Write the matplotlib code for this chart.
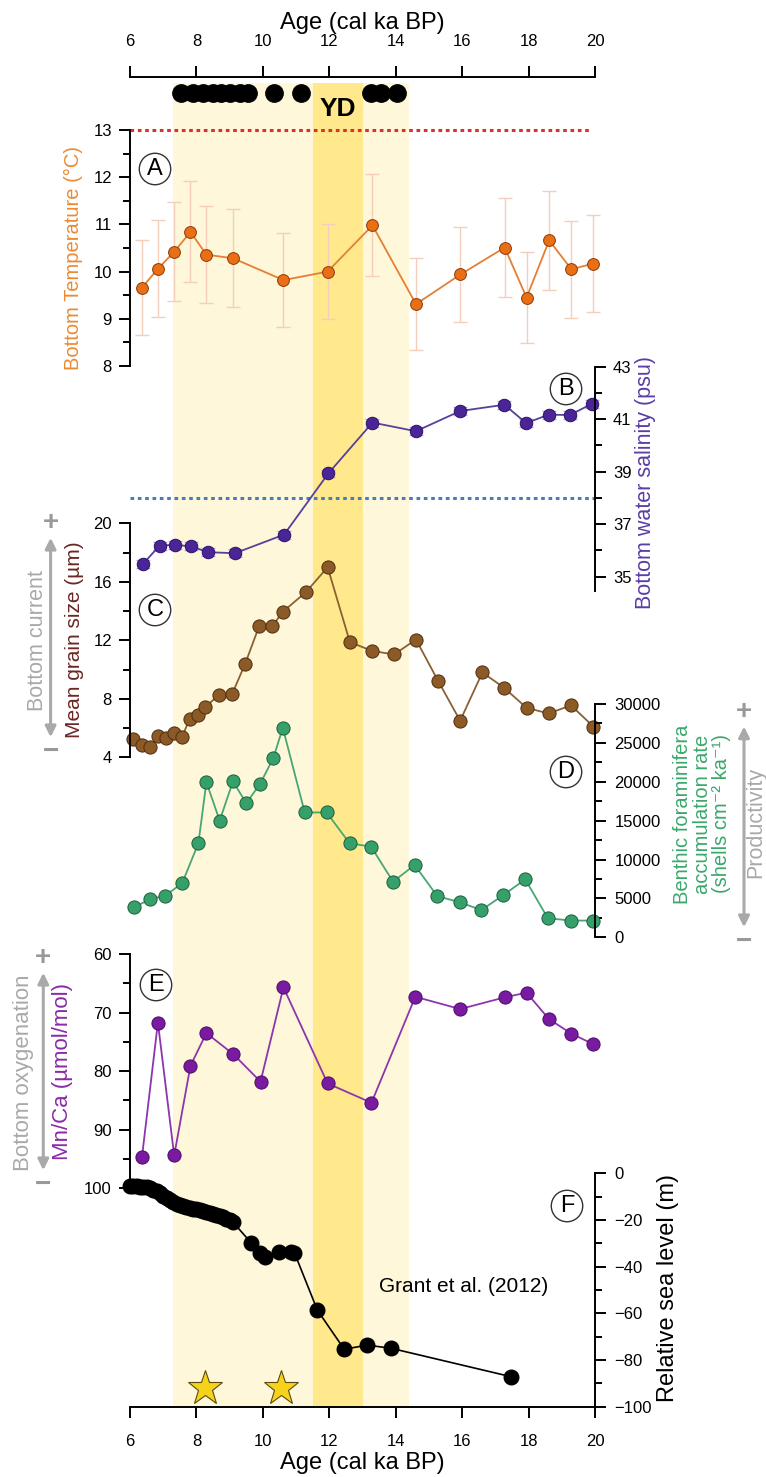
import matplotlib.pyplot as plt
from matplotlib.patches import FancyArrowPatch
from matplotlib.ticker import MultipleLocator

plt.rcParams["font.family"] = ["Liberation Sans", "DejaVu Sans"]

# canvas size and shared age axis (pixels)
W, H = 766, 1477
X0, X1 = 130, 595

# Holocene / deglacial shading and the Younger Dryas
band_light = (7.3, 14.4)
band_yd = (11.5, 13.0)

# radiocarbon dating levels
dating_ages = [7.55, 7.9, 8.2, 8.5, 8.75, 9.0, 9.3, 9.55, 10.35, 11.15, 13.25, 13.55, 14.05]

# (A) bottom temperature
temp_age = [6.36, 6.84, 7.33, 7.82, 8.30, 9.11, 10.62, 11.95, 13.30, 14.61, 15.95, 17.28, 17.94, 18.62, 19.29, 19.95]
temp = [9.66, 10.06, 10.42, 10.84, 10.36, 10.28, 9.82, 10.0, 10.98, 9.31, 9.94, 10.51, 9.45, 10.66, 10.05, 10.17]
temp_err = [1.0, 1.03, 1.05, 1.07, 1.03, 1.04, 1.0, 1.01, 1.08, 0.97, 1.01, 1.05, 0.97, 1.05, 1.03, 1.03]
temp_ref = 13.0

# (B) bottom water salinity
sal_age = [6.39, 6.89, 7.36, 7.85, 8.34, 9.16, 10.64, 11.97, 13.30, 14.61, 15.94, 17.27, 17.93, 18.60, 19.25, 19.91]
sal = [35.48, 36.18, 36.21, 36.15, 35.93, 35.89, 36.60, 38.93, 40.87, 40.54, 41.31, 41.55, 40.85, 41.17, 41.16, 41.59]
sal_err = [0.15] * 16
sal_ref = 38.0

# (C) mean grain size
grain_age = [6.08, 6.35, 6.61, 6.84, 7.07, 7.32, 7.56, 7.80, 8.04, 8.27, 8.68, 9.07, 9.47, 9.89, 10.29,
             10.60, 11.30, 11.95, 12.62, 13.28, 13.95, 14.61, 15.27, 15.94, 16.61, 17.26, 17.94, 18.60,
             19.28, 19.95]
grain = [5.23, 4.84, 4.73, 5.45, 5.34, 5.68, 5.36, 6.64, 6.89, 7.45, 8.27, 8.30, 10.41, 12.98, 12.98,
         13.95, 15.30, 17.0, 11.88, 11.28, 11.03, 12.05, 9.25, 6.50, 9.80, 8.76, 7.38, 7.00, 7.55, 6.10]

# (D) benthic foraminifera accumulation rate
bfar_age = [6.12, 6.60, 7.06, 7.57, 8.06, 8.30, 8.70, 9.10, 9.50, 9.92, 10.32, 10.60, 11.26, 11.92,
            12.61, 13.26, 13.92, 14.57, 15.25, 15.93, 16.58, 17.23, 17.90, 18.58, 19.29, 19.95]
bfar = [3850, 4900, 5350, 6950, 12100, 19950, 15000, 20050, 17250, 19750, 23100, 26950, 16050, 16050,
        12100, 11650, 7150, 9300, 5300, 4500, 3500, 5400, 7450, 2450, 2150, 2150]

# (E) Mn/Ca
mnca_age = [6.36, 6.84, 7.33, 7.82, 8.30, 9.11, 9.93, 10.62, 11.95, 13.27, 14.59, 15.94, 17.28, 17.94,
            18.61, 19.29, 19.95]
mnca = [94.7, 71.7, 94.4, 79.1, 73.5, 77.1, 81.8, 65.7, 82.1, 85.4, 67.3, 69.4, 67.4, 66.6, 71.1, 73.6, 75.4]

# (F) relative sea level, Grant et al. (2012)
rsl_age = [6.0, 6.1, 6.2, 6.3, 6.4, 6.5, 6.6, 6.7, 6.8, 6.9, 7.0, 7.1, 7.2, 7.3, 7.4, 7.5, 7.6, 7.7,
           7.8, 7.9, 8.0, 8.1, 8.2, 8.3, 8.4, 8.5, 8.6, 8.7, 8.8, 8.9, 9.0, 9.1,
           9.64, 9.91, 10.05, 10.50, 10.85, 10.95, 11.64, 12.45, 13.14, 13.87, 17.46]
rsl = [-5.6, -5.6, -5.6, -5.7, -5.8, -6.0, -6.4, -7.0, -7.7, -8.6, -9.6, -10.6, -11.5, -12.3, -13.0,
       -13.6, -14.1, -14.5, -14.8, -15.1, -15.4, -15.7, -16.0, -16.4, -16.8, -17.3, -17.8, -18.3,
       -18.9, -19.5, -20.2, -20.9,
       -29.7, -34.0, -35.7, -33.6, -33.6, -34.0, -58.6, -75.4, -73.6, -75.0, -87.1]
star_ages = [8.25, 10.55]
star_level = -92

LIGHT = "#fff7d9"
DARK = "#ffe98c"
GREY = "#a9a9a9"
LW = 1.4
TICK_FS = 12


def fx(x):
    return x / W


def fy(y):
    return 1 - y / H


def ftext(x, y, s, **kw):
    fig.text(fx(x), fy(y), s, ha="center", va="center", **kw)


def panel(top, bottom):
    ax = fig.add_axes([fx(X0), fy(bottom), (X1 - X0) / W, (bottom - top) / H])
    ax.set_xlim(6, 20)
    ax.patch.set_alpha(0)
    for s in ax.spines.values():
        s.set_visible(False)
    ax.tick_params(axis="x", bottom=False, labelbottom=False)
    return ax


def yaxis(ax, side, major, minor, pad=5):
    ax.spines[side].set_visible(True)
    ax.spines[side].set_linewidth(LW)
    if side == "right":
        ax.yaxis.tick_right()
    ax.yaxis.set_major_locator(MultipleLocator(major))
    ax.yaxis.set_minor_locator(MultipleLocator(minor))
    ax.tick_params(axis="y", which="major", length=8, width=LW, labelsize=TICK_FS, pad=pad)
    ax.tick_params(axis="y", which="minor", length=5, width=LW)


def circled(x, y, letter):
    ftext(x, y, letter, fontsize=17,
          bbox=dict(boxstyle="circle,pad=0.2", fc="none", ec="#333333", lw=1.0))


def gauge(x, y_top, y_bot):
    fig.add_artist(FancyArrowPatch((fx(x), fy(y_top + 12)), (fx(x), fy(y_bot - 10)),
                                   transform=fig.transFigure, arrowstyle="<|-|>",
                                   mutation_scale=16, color=GREY, lw=2.2))
    ftext(x, y_top, "+", fontsize=20, color="#999999", fontweight="bold")
    ftext(x, y_bot + 2, "\u2212", fontsize=20, color="#999999", fontweight="bold")


fig = plt.figure(figsize=(W / 100, H / 100), dpi=100)

# shading and the top age axis
AX_TOP, AX_BOT = 77, 1406.7
base = panel(AX_TOP, AX_BOT)
base.set_ylim(0, 1)
base.spines["top"].set_visible(True)
base.spines["top"].set_linewidth(LW)
base.set_yticks([])
base.xaxis.tick_top()
base.xaxis.set_label_position("top")
base.set_xticks(range(6, 21, 2))
base.tick_params(axis="x", top=True, labeltop=True, length=8, width=LW, labelsize=TICK_FS, pad=12)
base.set_xlabel("Age (cal ka BP)", fontsize=17, labelpad=4)


def frac(y):
    return (AX_BOT - y) / (AX_BOT - AX_TOP)


base.axvspan(*band_light, ymax=frac(83), color=LIGHT, lw=0, zorder=0)
base.axvspan(*band_yd, ymax=frac(83), color=DARK, lw=0, zorder=0)
base.plot(dating_ages, [frac(93)] * len(dating_ages), "o", color="black", ms=12.5, zorder=3)
base.text(12.25, frac(109), "YD", ha="center", va="center", fontsize=19, fontweight="bold")

# (A) temperature
axA = panel(130, 366)
axA.set_ylim(8, 13)
yaxis(axA, "left", 1, 0.5)
axA.hlines(temp_ref, 6, 19.85, colors="#d8322a", linestyles=(0, (1.2, 1.2)), lw=2.2, clip_on=False)
axA.errorbar(temp_age, temp, yerr=temp_err, fmt="none", ecolor="#f4cdbb", elinewidth=1.0,
             capsize=5, capthick=1.0, clip_on=False)
axA.plot(temp_age, temp, "-o", color="#e47f34", lw=1.3, ms=8.5, mfc="#ea6f14", mec="#8a3b0c",
         mew=0.7, clip_on=False)
ftext(73, 258, "Bottom Temperature (\u00b0C)", rotation=90, fontsize=14.5, color="#ec8a33")
circled(155, 169, "A")

# (B) salinity
axB = panel(366.7, 591)
axB.set_ylim(34.45, 43)
yaxis(axB, "right", 2, 1)
axB.yaxis.set_major_locator(plt.FixedLocator([35, 37, 39, 41, 43]))
axB.hlines(sal_ref, 6, 20, colors="#4a7db8", linestyles=(0, (1.2, 1.2)), lw=2.2, clip_on=False)
axB.errorbar(sal_age, sal, yerr=sal_err, fmt="none", ecolor="#b7acd9", elinewidth=1.0,
             capsize=5, capthick=1.0, clip_on=False)
axB.plot(sal_age, sal, "-o", color="#55409c", lw=1.3, ms=9, mfc="#4b2597", mec="#2c1266",
         mew=0.7, clip_on=False)
ftext(645, 483, "Bottom water salinity (psu)", rotation=90, fontsize=15.5, color="#5b3ea6")
circled(566, 389, "B")

# (C) grain size
axC = panel(523.3, 757.3)
axC.set_ylim(4, 20)
yaxis(axC, "left", 4, 2)
axC.plot(grain_age, grain, "-o", color="#8a6034", lw=1.3, ms=9.5, mfc="#8c5a26", mec="#4e2e0e",
         mew=0.7, clip_on=False)
ftext(75, 640, "Mean grain size (\u00b5m)", rotation=90, fontsize=15, color="#6a2723")
ftext(37.5, 641, "Bottom current", rotation=90, fontsize=15.5, color=GREY)
gauge(50.6, 523, 750)
circled(155, 610, "C")

# (D) benthic foraminifera accumulation rate
axD = panel(704, 937.3)
axD.set_ylim(0, 30000)
yaxis(axD, "right", 5000, 2500, pad=6)
axD.plot(bfar_age, bfar, "-o", color="#47a676", lw=1.3, ms=9.5, mfc="#35a06a", mec="#1d5e3c",
         mew=0.7, clip_on=False)
ftext(702, 814, "Benthic foraminifera\naccumulation rate\n(shells cm\u207b\u00b2 ka\u207b\u00b9)",
      rotation=90, fontsize=14.5, color="#3aa86b", linespacing=1.05)
ftext(756, 822, "Productivity", rotation=90, fontsize=15.5, color=GREY)
gauge(744, 711.7, 940)
circled(566, 772, "D")

# (E) Mn/Ca
axE = panel(954, 1188.3)
axE.set_ylim(100, 60)
yaxis(axE, "left", 10, 5)
axE.plot(mnca_age, mnca, "-o", color="#8c35ad", lw=1.3, ms=9.5, mfc="#7a1aa0", mec="#4a0c66",
         mew=0.7, clip_on=False)
ftext(63, 1072, "Mn/Ca (\u00b5mol/mol)", rotation=90, fontsize=16, color="#8a2aa8")
ftext(23.3, 1073, "Bottom oxygenation", rotation=90, fontsize=16, color=GREY)
gauge(43.3, 958, 1183)
circled(156, 985, "E")

# (F) relative sea level and bottom age axis
axF = panel(1173.3, AX_BOT)
axF.set_ylim(-100, 0)
yaxis(axF, "right", 20, 10, pad=6)
axF.spines["bottom"].set_visible(True)
axF.spines["bottom"].set_linewidth(LW)
axF.set_xticks(range(6, 21, 2))
axF.tick_params(axis="x", bottom=True, labelbottom=True, length=8, width=LW, labelsize=TICK_FS, pad=12)
axF.set_xlabel("Age (cal ka BP)", fontsize=17, labelpad=2)
axF.plot(rsl_age, rsl, "-o", color="black", lw=1.2, ms=10.5, clip_on=False)
axF.plot(star_ages, [star_level] * len(star_ages), "*", ms=26, mfc="#f6d31a", mec="#5a4a10",
         mew=0.8, clip_on=False)
axF.text(16.05, -48.6, "Grant et al. (2012)", ha="center", va="center", fontsize=15)
ftext(668, 1288, "Relative sea level (m)", rotation=90, fontsize=17, color="black")
circled(567, 1206, "F")

fig.savefig("out.png", dpi=100)
